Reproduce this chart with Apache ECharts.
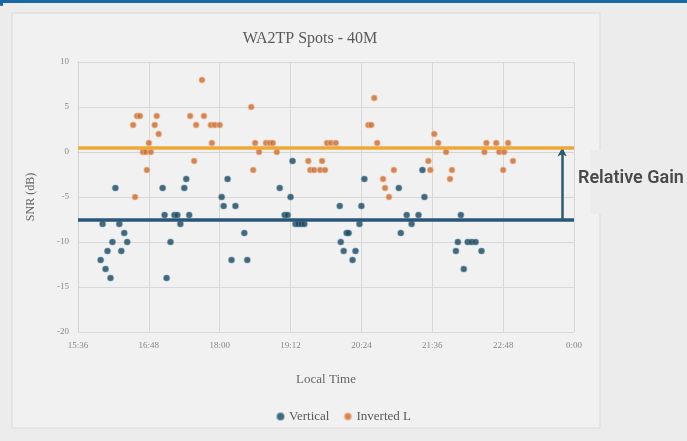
<!DOCTYPE html>
<html>
<head>
<meta charset="utf-8">
<script src="https://cdn.jsdelivr.net/npm/echarts@6/dist/echarts.min.js"></script>
<style>
html,body{margin:0;padding:0;background:#ececec;}
#chart{width:687px;height:441px;}
</style>
</head>
<body>
<div id="chart"></div>
<script>
// Local time in minutes after midnight (15:36 = 936)
var verticalTimes = [959,961,964,966,969,971,974,978,980,983,986,
  1022,1024,1026,1030,1034,1037,1040,1044,1046,1049,
  1082,1084,1088,1092,1096,1105,1108,
  1141,1146,1149,1152,1154,1157,1160,1163,1166,
  1202,1203,1206,1209,1211,1215,1218,1222,1224,1227,
  1262,1264,1270,1275,1282,1286,1288,
  1320,1322,1325,1328,1332,1336,1340,1346];
var verticalSNR = [-12,-8,-13,-11,-14,-10,-4,-8,-11,-9,-10,
  -4,-7,-14,-10,-7,-7,-8,-4,-3,-7,
  -5,-6,-3,-12,-6,-9,-12,
  -4,-7,-7,-5,-1,-8,-8,-8,-8,
  -6,-10,-11,-9,-9,-12,-11,-8,-6,-3,
  -4,-9,-7,-8,-7,-2,-5,
  -11,-10,-7,-13,-10,-10,-10,-11];

var invertedTimes = [992,994,996,999,
  1002,1005,1006,1008,1010,1014,1016,1018,
  1050,1054,1056,1062,1064,1071,1072,1075,1080,
  1112,1114,1116,1120,1127,1131,1134,1138,
  1170,1172,1176,1182,1184,1187,1189,1193,1198,
  1231,1234,1237,1240,1246,1248,1252,1257,
  1292,1294,1298,1302,1310,1314,1316,
  1349,1351,1361,1364,1368,1369,1373,1378];
var invertedSNR = [3,-5,4,4,
  0,0,-2,1,0,3,4,2,
  4,-1,3,8,4,3,1,3,3,
  5,-2,1,0,1,1,1,0,
  -1,-2,-2,-2,-1,-2,1,1,1,
  3,3,6,1,-3,-4,-5,-2,
  -1,-2,2,1,0,-3,-2,
  0,1,1,0,-2,0,1,-1];

var seriesNames = ['Vertical', 'Inverted L'];
var averageLevels = [-7.5, 0.5];   // horizontal reference lines (dB)
var gainArrowTime = 1428;          // x position of the "Relative Gain" arrow
var xTickLabels = ['15:36','16:48','18:00','19:12','20:24','21:36','22:48','0:00'];
var yTickLabels = ['-20','-15','-10','-5','0','5','10'];

function zip(a, b){ return a.map(function(v,i){ return [v, b[i]]; }); }

var serif = '"Liberation Serif", "DejaVu Serif", serif';
var chart = echarts.init(document.getElementById('chart'), null, {renderer:'canvas'});
chart.setOption({
  backgroundColor: '#ececec',
  animation: false,
  graphic: [
    {type:'rect', shape:{x:12,y:13,width:588,height:415}, style:{fill:'#f1f1f1', stroke:'#dadada', lineWidth:1}, z:-10},
    {type:'rect', shape:{x:0,y:0,width:687,height:3}, style:{fill:'#1768a3'}},
    {type:'rect', shape:{x:0,y:0,width:3,height:6,r:1}, style:{fill:'#1768a3'}},
    {type:'rect', shape:{x:590,y:150,width:20,height:64}, style:{fill:'#ececec'}, z:-5},
    {type:'text', left:578, top:169, style:{text:'Relative Gain', font:'600 18px Roboto, "Liberation Sans", sans-serif', fill:'#4a4a4a'}}
  ],
  title: {
    text: 'WA2TP Spots - 40M',
    left: 305, top: 26, textAlign: 'center',
    textStyle: {fontFamily: serif, fontSize: 16, fontWeight: 'normal', color: '#5a5a5a'}
  },
  legend: {
    data: seriesNames,
    left: 'center', top: 405,
    itemWidth: 7, itemHeight: 7, itemGap: 14,
    icon: 'circle',
    textStyle: {fontFamily: serif, fontSize: 13, color: '#5a5a5a'}
  },
  grid: {left: 78, top: 62, width: 496, height: 270, containLabel: false},
  xAxis: {
    type: 'value', min: 936, max: 1440, interval: 72,
    name: 'Local Time', nameLocation: 'middle', nameGap: 41,
    nameTextStyle: {fontFamily: serif, fontSize: 13, color: '#666'},
    axisLine: {show: true, lineStyle: {color: '#d4d4d4'}},
    axisTick: {show: false},
    axisLabel: {fontFamily: serif, fontSize: 9, color: '#888', margin: 9,
      formatter: function(v){ return xTickLabels[Math.round((v-936)/72)]; }},
    splitLine: {show: true, lineStyle: {color: '#d8d8d8'}}
  },
  yAxis: {
    type: 'value', min: -20, max: 10, interval: 5,
    name: 'SNR (dB)', nameLocation: 'middle', nameGap: 41,
    nameTextStyle: {fontFamily: serif, fontSize: 12, color: '#666'},
    axisLine: {show: true, lineStyle: {color: '#d4d4d4'}},
    axisTick: {show: false},
    axisLabel: {fontFamily: serif, fontSize: 9, color: '#888', margin: 9,
      formatter: function(v){ return yTickLabels[Math.round((v+20)/5)]; }},
    splitLine: {show: true, lineStyle: {color: '#d8d8d8'}}
  },
  series: [
    {
      name: seriesNames[0], type: 'scatter', symbolSize: 6,
      itemStyle: {color: '#1f4555', borderColor: 'rgba(70,140,180,0.55)', borderWidth: 1.2},
      data: zip(verticalTimes, verticalSNR),
      z: 3,
      markLine: {
        silent: true, symbol: ['none','none'], animation: false,
        label: {show: false},
        lineStyle: {type: 'solid', color: '#2a5678', width: 3.5},
        data: [
          {yAxis: averageLevels[0]},
          [{coord: [gainArrowTime, averageLevels[0]], lineStyle:{color:'#2e5a6c', width:2.5}, symbol:'none'},
           {coord: [gainArrowTime, averageLevels[1]], symbol:'arrow', symbolSize: [7,9]}]
        ]
      }
    },
    {
      name: seriesNames[1], type: 'scatter', symbolSize: 6,
      itemStyle: {color: '#c66c38', borderColor: 'rgba(245,190,140,0.65)', borderWidth: 1.2},
      data: zip(invertedTimes, invertedSNR),
      z: 3,
      markLine: {
        silent: true, symbol: ['none','none'], animation: false,
        label: {show: false},
        lineStyle: {type: 'solid', color: '#eea838', width: 3.5},
        data: [{yAxis: averageLevels[1]}]
      }
    }
  ]
});
</script>
</body>
</html>
